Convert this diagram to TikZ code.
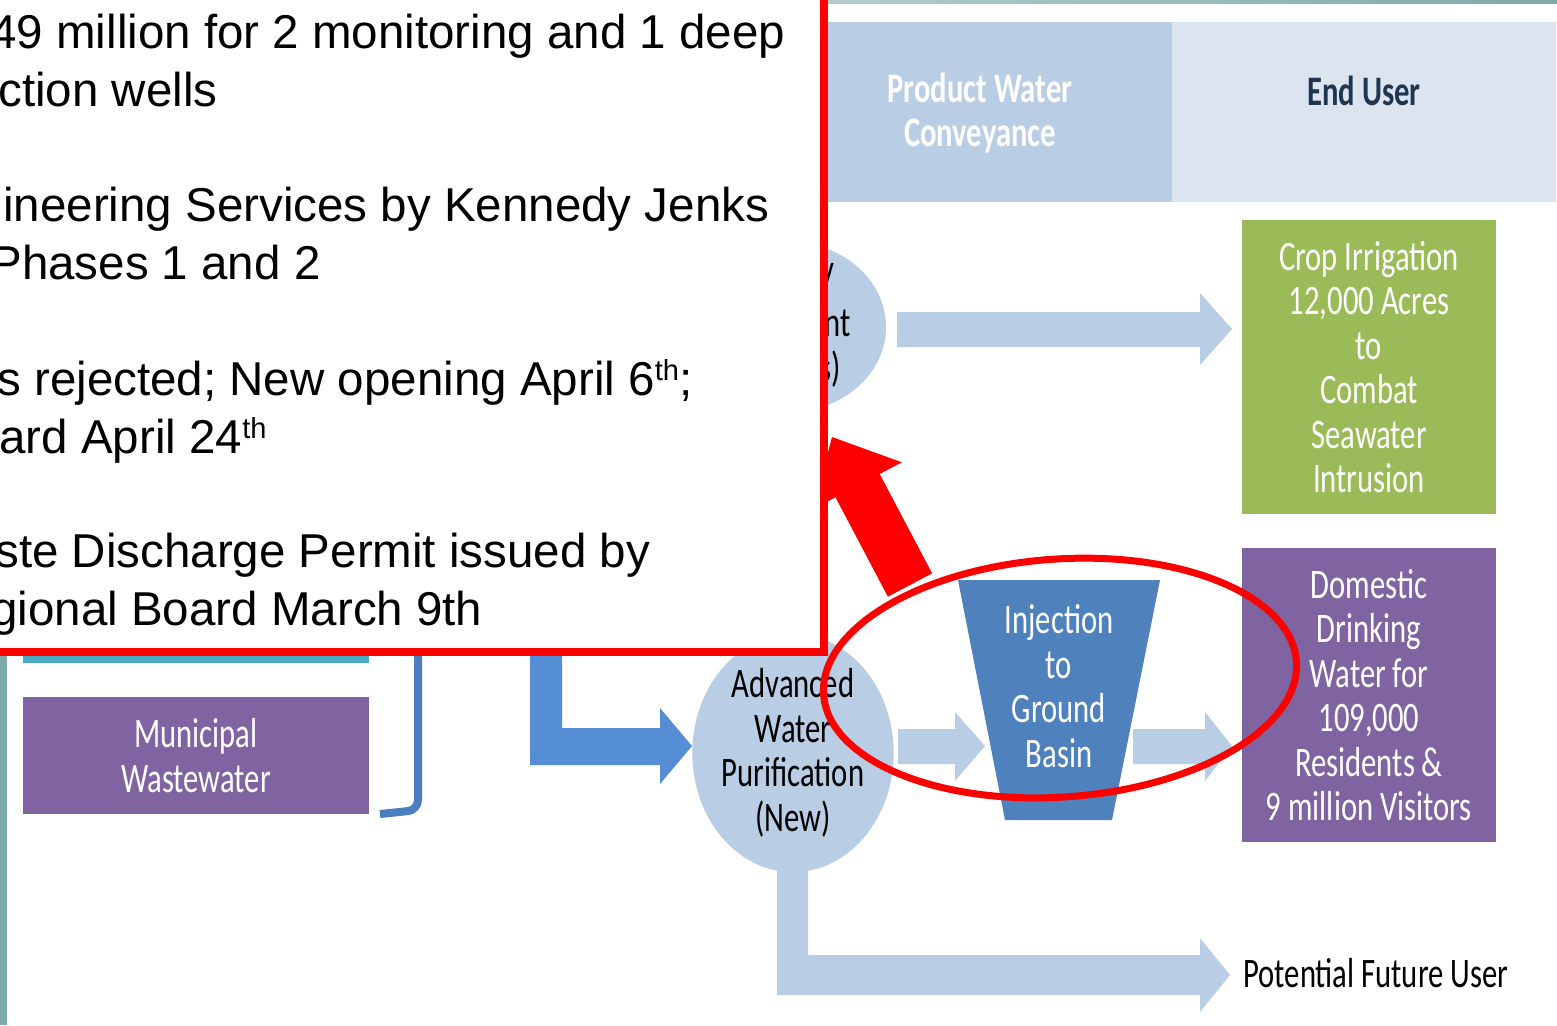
\documentclass[tikz,border=0pt]{standalone}
\usepackage{fontspec}
\setmainfont{Liberation Sans}
\newfontfamily\slidefont[FakeStretch=0.73]{Carlito}
\usetikzlibrary{shapes.geometric}

\definecolor{paleblue}{HTML}{B9CDE5}
\definecolor{headgray}{HTML}{DBE4EF}
\definecolor{cropgreen}{HTML}{9BBB59}
\definecolor{usepurple}{HTML}{8064A2}
\definecolor{basinblue}{HTML}{4F81BD}
\definecolor{feedblue}{HTML}{558ED5}
\definecolor{bracketblue}{HTML}{4A7EBF}
\definecolor{stripteal}{HTML}{4BACC6}
\definecolor{slideteal}{HTML}{7FAAAA}
\definecolor{navytext}{HTML}{1F3550}
\definecolor{alertred}{HTML}{FF0000}

\newcommand{\ordsup}[1]{\raisebox{7.5pt}{\fontsize{14.5}{14.5}\selectfont #1}}

\begin{document}
\begin{tikzpicture}[x=0.5pt,y=-0.5pt,
  slidetxt/.style={font=\slidefont\fontsize{21}{22.25}\selectfont,align=center,inner sep=0},
  headtxt/.style={font=\slidefont\bfseries\fontsize{21}{22.25}\selectfont,align=center,inner sep=0},
  overtxt/.style={font=\fontsize{23.75}{29}\selectfont,anchor=base west,inner sep=0},
  card/.style={minimum width=127pt,minimum height=147pt,inner sep=0,slidetxt,text=white},
  flow/.style={fill=paleblue}]
\useasboundingbox (0,0) rectangle (1557,1025);
\clip (0,0) rectangle (1557,1025);

% slide frame
\shade[left color=slideteal!60,right color=slideteal] (828,0) rectangle (1557,3);
\fill[slideteal] (0,656) rectangle (7,1025);

% header row
\node[fill=paleblue,minimum width=192pt,minimum height=90pt,inner sep=0] (conv) at (980,112) {};
\node[fill=headgray,minimum width=192pt,minimum height=90pt,inner sep=0] (usr) at (1364,112) {};
\node[headtxt,text=white] (convtxt) at (980,113) {Product Water\\Conveyance};
\node[headtxt,text=navytext] (usrtxt) at (1364,91) {End User};

% upper row
\node[ellipse,fill=paleblue,minimum width=97pt,minimum height=85pt,inner sep=0] (plant) at (789,327) {};
\node[slidetxt,anchor=east] (pl1) at (835,277) {y};
\node[slidetxt,anchor=east] (pl2) at (851,323) {nt};
\node[slidetxt,anchor=east] (pl3) at (841,369) {s)};
\fill[flow] (897,312) -- (1200,312) -- (1200,293) -- (1232,329) -- (1200,365) -- (1200,347) -- (897,347) -- cycle;
\node[card,fill=cropgreen] (crop) at (1369,367) {Crop Irrigation\\12,000 Acres\\to\\Combat\\Seawater\\Intrusion};

% lower row
\node[ellipse,fill=paleblue,minimum width=97pt,minimum height=105pt,inner sep=0,slidetxt] (awp) at (793,753) {Advanced\\Water\\Purification\\(New)};
\fill[flow] (898,729) -- (955,729) -- (955,712) -- (985,746) -- (955,781) -- (955,764) -- (898,764) -- cycle;
\fill[basinblue] (958,580) -- (1160,580) -- (1112,820) -- (1005,820) -- cycle;
\node[slidetxt,text=white] (basin) at (1059,686) {Injection\\to\\Ground\\Basin};
\fill[flow] (1133,729) -- (1205,729) -- (1205,712) -- (1232,746) -- (1205,781) -- (1205,764) -- (1133,764) -- cycle;
\node[card,fill=usepurple] (home) at (1369,695) {Domestic\\Drinking\\Water for\\109,000\\Residents \&\\9 million Visitors};

% source side
\fill[stripteal] (23,650) rectangle (369,663);
\node[fill=usepurple,minimum width=173pt,minimum height=58.5pt,inner sep=0,slidetxt,text=white] (muni) at (196,755.5) {Municipal\\Wastewater};
\draw[bracketblue,line width=4pt,rounded corners=5pt] (418,650) -- (418,810) -- (380,814);
\fill[feedblue] (530,650) -- (562,650) -- (562,728) -- (660,728) -- (660,708) -- (692,746) -- (660,784) -- (660,765) -- (530,765) -- cycle;

% future user
\fill[flow] (777,865) -- (808,865) -- (808,955) -- (1200,955) -- (1200,938) -- (1230,975) -- (1200,1012) -- (1200,995) -- (777,995) -- cycle;
\node[slidetxt,anchor=west] (future) at (1243,973) {Potential Future User};

% overlay
\fill[alertred] (832,437) -- (901.8,462.3) -- (879.7,474) -- (932.1,573.3) -- (887.9,596.7) -- (835.5,497.3) -- (813.4,508.9) -- cycle;
\draw[alertred,line width=4pt,fill=white] (-30,-30) rectangle (824,652);
\node[overtxt] (ov1) at (-10,48) {49 million for 2 monitoring and 1 deep};
\node[overtxt] (ov2) at (-2,106) {ction wells};
\node[overtxt] (ov3) at (3,221) {ineering Services by Kennedy Jenks};
\node[overtxt] (ov4) at (-10,279) {Phases 1 and 2};
\node[overtxt] (ov5) at (-3,395) {s rejected; New opening April 6\ordsup{th};};
\node[overtxt] (ov6) at (-1,453) {ard April 24\ordsup{th}};
\node[overtxt] (ov7) at (-5,567) {ste Discharge Permit issued by};
\node[overtxt] (ov8) at (-9,625) {gional Board March 9th};
\draw[alertred,line width=3.5pt,rotate around={4:(1060,678)}] (1060,678) ellipse [x radius=237,y radius=119];
\end{tikzpicture}
\end{document}
